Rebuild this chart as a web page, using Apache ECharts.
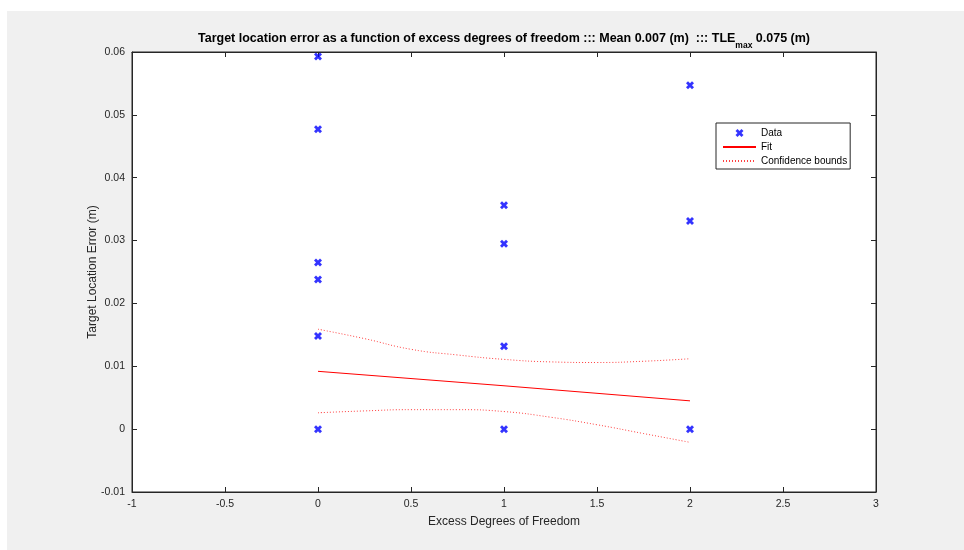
<!DOCTYPE html>
<html>
<head>
<meta charset="utf-8">
<script src="https://cdn.jsdelivr.net/npm/echarts@6/dist/echarts.min.js"></script>
<style>
  html, body { margin: 0; padding: 0; background: #fff; }
  #chart { width: 964px; height: 550px; }
</style>
</head>
<body>
<div id="chart"></div>
<script>
// Measured target location error for each excess degree of freedom
const dataX = [0, 0, 0, 0, 0, 0, 1, 1, 1, 1, 2, 2, 2];
const dataY = [0.0593, 0.0477, 0.0265, 0.0238, 0.0148, 0, 0.0356, 0.0295, 0.0132, 0, 0.0547, 0.0331, 0];

// Linear fit
const fitX = [0, 1, 2];
const fitY = [0.0092, 0.0069, 0.0045];

// Confidence bounds of the fit
const boundX = [0, 0.25, 0.5, 0.75, 1, 1.25, 1.5, 1.75, 2];
const upperY = [0.0159, 0.0144, 0.0127, 0.0118, 0.0111, 0.0107, 0.0106, 0.0108, 0.0112];
const lowerY = [0.0026, 0.0029, 0.0031, 0.0031, 0.0028, 0.0019, 0.0007, -0.0007, -0.0021];

// Axis ranges and ticks
const xRange = { min: -1, max: 3, interval: 0.5 };
const yRange = { min: -0.01, max: 0.06, interval: 0.01 };

const FONT = '"Liberation Sans", Arial, Helvetica, sans-serif';
const AX = '#262626';
const CROSS = 'path://M0,2.5 L2.5,0 L5,2.5 L7.5,0 L10,2.5 L7.5,5 L10,7.5 L7.5,10 L5,7.5 L2.5,10 L0,7.5 L2.5,5 Z';

const pairs = (xs, ys) => xs.map((x, i) => [x, ys[i]]);
const fmt = v => String(parseFloat(Number(v).toFixed(4)));

const chart = echarts.init(document.getElementById('chart'), null, { renderer: 'canvas' });

function axisBase(range) {
  return {
    type: 'value',
    min: range.min, max: range.max, interval: range.interval,
    splitLine: { show: false },
    axisLine: { show: true, onZero: false, lineStyle: { color: AX, width: 1 } },
    axisTick: { show: true, inside: true, length: 5, lineStyle: { color: AX } }
  };
}

const boundStyle = { color: '#ff0000', width: 1, type: [1, 2], opacity: 0.75 };

chart.setOption({
  backgroundColor: '#f0f0f0',
  animation: false,
  graphic: [
    { type: 'rect', shape: { x: 0, y: 0, width: 964, height: 11 }, style: { fill: '#fff' }, silent: true },
    { type: 'rect', shape: { x: 0, y: 0, width: 7, height: 550 }, style: { fill: '#fff' }, silent: true },
    {
      type: 'text', x: 504, y: 41, silent: true,
      style: {
        text: '{b|Target location error as a function of excess degrees of freedom ::: Mean 0.007 (m)  ::: TLE}{s|max}{b| 0.075 (m)}',
        align: 'center', verticalAlign: 'middle',
        rich: {
          b: { fontFamily: FONT, fontWeight: 'bold', fontSize: 12.5, fill: '#000', lineHeight: 16, verticalAlign: 'top' },
          s: { fontFamily: FONT, fontWeight: 'bold', fontSize: 8.5, fill: '#000', lineHeight: 18, verticalAlign: 'bottom' }
        }
      }
    }
  ],
  grid: {
    left: 132, top: 52, width: 744, height: 440,
    show: true, backgroundColor: '#fff', borderColor: AX, borderWidth: 1
  },
  legend: {
    data: [
      { name: 'Data', icon: CROSS },
      { name: 'Fit', itemStyle: { opacity: 0 } },
      { name: 'Confidence bounds', itemStyle: { opacity: 0 } }
    ],
    orient: 'vertical',
    left: 716, top: 123,
    itemWidth: 33, itemHeight: 8, itemGap: 4,
    padding: [5, 3, 3, 6],
    backgroundColor: '#fff',
    borderColor: AX, borderWidth: 1, borderRadius: 0,
    textStyle: { fontFamily: FONT, fontSize: 10, color: '#000' },
    selectedMode: false
  },
  xAxis: [
    Object.assign(axisBase(xRange), {
      position: 'bottom',
      name: 'Excess Degrees of Freedom', nameLocation: 'middle', nameGap: 24,
      nameMoveOverlap: false,
      nameTextStyle: { fontFamily: FONT, fontSize: 12, color: AX },
      axisLabel: { show: true, margin: 7, color: AX, fontFamily: FONT, fontSize: 10.5, formatter: fmt }
    }),
    Object.assign(axisBase(xRange), { position: 'top', axisLabel: { show: false } })
  ],
  yAxis: [
    Object.assign(axisBase(yRange), {
      position: 'left',
      name: 'Target Location Error (m)', nameLocation: 'middle', nameGap: 33,
      nameMoveOverlap: false,
      nameTextStyle: { fontFamily: FONT, fontSize: 12, color: AX },
      axisLabel: { show: true, margin: 7, color: AX, fontFamily: FONT, fontSize: 10.5, formatter: fmt }
    }),
    Object.assign(axisBase(yRange), { position: 'right', axisLabel: { show: false } })
  ],
  series: [
    {
      name: 'Data', type: 'scatter',
      xAxisIndex: 0, yAxisIndex: 0,
      symbol: CROSS, symbolSize: 8,
      itemStyle: { color: '#0000ff' },
      data: pairs(dataX, dataY), z: 5
    },
    {
      name: 'Fit', type: 'line',
      xAxisIndex: 0, yAxisIndex: 0,
      symbol: 'none',
      lineStyle: { color: '#ff0000', width: 1 },
      itemStyle: { color: '#ff0000' },
      data: pairs(fitX, fitY)
    },
    {
      name: 'Confidence bounds', type: 'line',
      xAxisIndex: 0, yAxisIndex: 0,
      symbol: 'none', smooth: true,
      lineStyle: boundStyle,
      itemStyle: { color: '#ff0000' },
      data: pairs(boundX, upperY)
    },
    {
      name: 'Confidence bounds', type: 'line',
      xAxisIndex: 0, yAxisIndex: 0,
      symbol: 'none', smooth: true,
      lineStyle: boundStyle,
      itemStyle: { color: '#ff0000' },
      data: pairs(boundX, lowerY)
    }
  ]
});
</script>
</body>
</html>
